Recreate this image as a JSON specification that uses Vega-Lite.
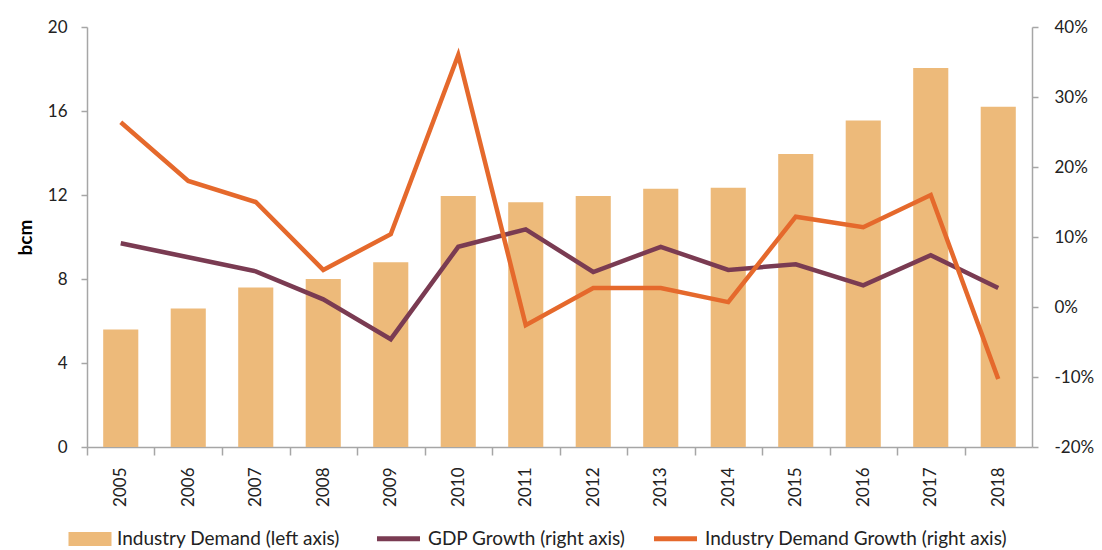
{
  "$schema": "https://vega.github.io/schema/vega-lite/v6.json",
  "width": 945,
  "height": 420,
  "autosize": "none",
  "padding": {"left": 87, "top": 27, "right": 70, "bottom": 103},
  "background": "white",
  "config": {
    "font": "Lato",
    "view": {"stroke": null},
    "axis": {"labelFont": "Lato", "labelFontSize": 17, "labelColor": "#222", "domainColor": "#A6A6A6", "tickColor": "#A6A6A6", "domainWidth": 1.5, "tickWidth": 1.5, "tickSize": 6, "grid": false},
    "legend": {"labelFont": "Lato", "labelFontSize": 19, "labelColor": "#222", "labelLimit": 500}
  },
  "data": {"values": [
    {"year": "2005", "demand": 5.6, "gdp": 0.091, "growth": 0.264},
    {"year": "2006", "demand": 6.6, "gdp": 0.071, "growth": 0.180},
    {"year": "2007", "demand": 7.6, "gdp": 0.051, "growth": 0.150},
    {"year": "2008", "demand": 8.0, "gdp": 0.011, "growth": 0.053},
    {"year": "2009", "demand": 8.8, "gdp": -0.046, "growth": 0.104},
    {"year": "2010", "demand": 11.95, "gdp": 0.086, "growth": 0.360},
    {"year": "2011", "demand": 11.65, "gdp": 0.111, "growth": -0.026},
    {"year": "2012", "demand": 11.95, "gdp": 0.050, "growth": 0.027},
    {"year": "2013", "demand": 12.3, "gdp": 0.086, "growth": 0.027},
    {"year": "2014", "demand": 12.35, "gdp": 0.053, "growth": 0.007},
    {"year": "2015", "demand": 13.95, "gdp": 0.061, "growth": 0.129},
    {"year": "2016", "demand": 15.55, "gdp": 0.031, "growth": 0.114},
    {"year": "2017", "demand": 18.05, "gdp": 0.074, "growth": 0.160},
    {"year": "2018", "demand": 16.2, "gdp": 0.027, "growth": -0.103}
  ]},
  "encoding": {
    "x": {"field": "year", "type": "ordinal", "title": null,
      "scale": {"paddingInner": 0.48, "paddingOuter": 0.24},
      "axis": {"labelAngle": -90, "tickOffset": -33.75, "labelOffset": 33.75, "tickSize": 8, "labelPadding": 12, "labelBaseline": "middle", "labelAlign": "right"}}
  },
  "layer": [
    {
      "mark": {"type": "bar"},
      "encoding": {
        "y": {"field": "demand", "type": "quantitative", "title": "bcm",
          "scale": {"domain": [0, 20], "nice": false},
          "axis": {"values": [0, 4, 8, 12, 16, 20], "titleFontSize": 19, "titleFontWeight": "bold", "titleColor": "#000", "titleFont": "Lato", "titlePadding": 12, "labelPadding": 14}},
        "fill": {"datum": "Industry Demand (left axis)", "type": "nominal",
          "scale": {"range": ["#EDBA7A"]},
          "legend": {"title": null, "orient": "none", "legendX": -19, "legendY": 490, "direction": "horizontal", "symbolType": "M-1,-0.33H1V0.33H-1Z", "symbolSize": 1850, "symbolStrokeWidth": 0, "labelOffset": 5}}
      }
    },
    {
      "layer": [
        {
          "mark": {"type": "line", "strokeWidth": 4.5},
          "encoding": {
            "y": {"field": "gdp", "type": "quantitative", "title": null,
              "scale": {"domain": [-0.2, 0.4], "nice": false},
              "axis": {"orient": "right", "labelExpr": "replace(format(datum.value, '.0%'), '\u2212', '-')", "values": [-0.2, -0.1, 0, 0.1, 0.2, 0.3, 0.4], "labelPadding": 16}},
            "stroke": {"datum": "GDP Growth (right axis)", "type": "nominal"}
          }
        },
        {
          "mark": {"type": "line", "strokeWidth": 4.5},
          "encoding": {
            "y": {"field": "growth", "type": "quantitative"},
            "stroke": {"datum": "Industry Demand Growth (right axis)", "type": "nominal",
              "scale": {"domain": ["GDP Growth (right axis)", "Industry Demand Growth (right axis)"], "range": ["#7A3B52", "#E5692C"]},
              "legend": {"title": null, "orient": "none", "legendX": 287, "legendY": 487, "direction": "horizontal", "symbolType": "stroke", "symbolSize": 1850, "symbolStrokeWidth": 5, "labelOffset": 5, "columnPadding": 17}}
          }
        }
      ]
    }
  ],
  "resolve": {"scale": {"y": "independent"}}
}
